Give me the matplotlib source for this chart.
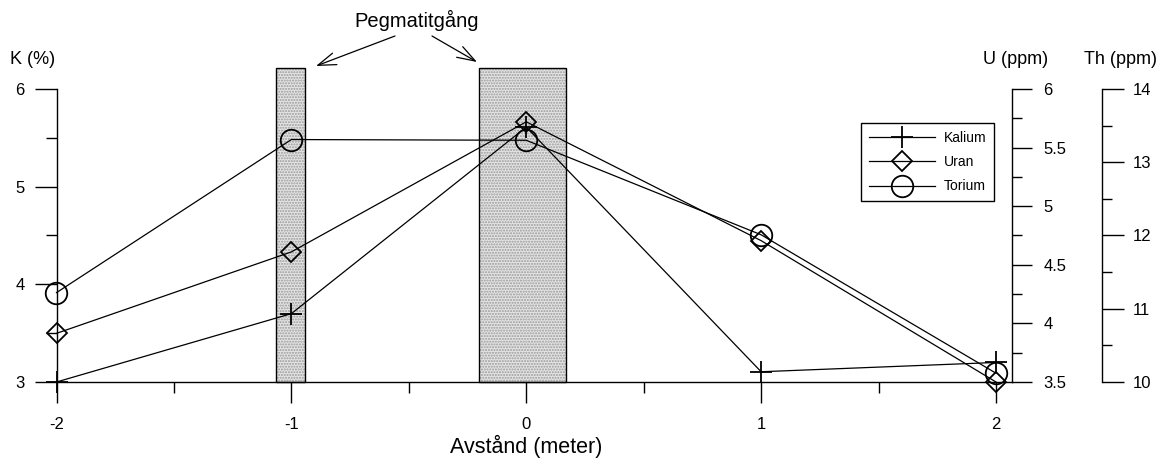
import matplotlib
matplotlib.use("Agg")
import matplotlib.pyplot as plt
from matplotlib.patches import Rectangle, FancyArrowPatch
from matplotlib.ticker import MultipleLocator, FixedLocator

plt.rcParams['font.family'] = ['Liberation Sans', 'DejaVu Sans']

# ---- data ----
distance = [-2, -1, 0, 1, 2]
kalium = [3.0, 3.70, 5.61, 3.105, 3.2]          # K (%)
uran = [3.915, 4.61, 5.72, 4.706, 3.50]         # U (ppm)
torium = [11.22, 13.31, 13.30, 12.01, 10.12]    # Th (ppm)
series_names = ['Kalium', 'Uran', 'Torium']
dykes = [(-1.067, -0.941), (-0.200, 0.168)]      # pegmatite dyke extents (m)
dyke_top = 6.215
x_ticks = [-2, -1, 0, 1, 2]
k_ticks = [3, 4, 5, 6]
u_ticks = [3.5, 4, 4.5, 5, 5.5, 6]
th_ticks = [10, 11, 12, 13, 14]

W, H = 1168, 461
fig = plt.figure(figsize=(W / 100, H / 100), dpi=100)

x_left, x_right, y_top, y_bot = 56.5, 1012, 89, 382
ax = fig.add_axes([x_left / W, 1 - y_bot / H, (x_right - x_left) / W, (y_bot - y_top) / H])
unit = (996 - 56.5) / 4
ax.set_xlim(-2, 2 + (x_right - 996) / unit)
ax.set_ylim(3, 6)

for s in ['top', 'right']:
    ax.spines[s].set_visible(False)
for s in ['left', 'bottom']:
    ax.spines[s].set_linewidth(1.0)
    ax.spines[s].set_color('black')

ax.xaxis.set_major_locator(FixedLocator(x_ticks))
ax.xaxis.set_minor_locator(FixedLocator([-1.5, -0.5, 0.5, 1.5]))
ax.yaxis.set_major_locator(FixedLocator(k_ticks))
ax.yaxis.set_minor_locator(FixedLocator([3.5, 4.5, 5.5]))
ax.tick_params(axis='x', which='major', direction='out', length=15, width=1, pad=10, labelsize=12)
ax.tick_params(axis='x', which='minor', direction='out', length=8, width=1)
ax.tick_params(axis='y', which='major', direction='out', length=16, width=1, pad=7, labelsize=12)
ax.tick_params(axis='y', which='minor', direction='out', length=8, width=1)
ax.set_xticklabels([str(v) for v in x_ticks])
ax.set_yticklabels([str(v) for v in k_ticks])

# pegmatite dykes
for (x0, x1) in dykes:
    ax.add_patch(Rectangle((x0, 3), x1 - x0, dyke_top - 3, facecolor='#e4e4e4',
                           edgecolor='#9a9a9a', hatch='......', linewidth=0,
                           clip_on=False, zorder=1))
    ax.add_patch(Rectangle((x0, 3), x1 - x0, dyke_top - 3, facecolor='none',
                           edgecolor='black', linewidth=1.0, clip_on=False, zorder=1.5))

# U axis
ax2 = ax.twinx()
ax2.set_ylim(3.5, 6)
for s in ['top', 'left', 'bottom']:
    ax2.spines[s].set_visible(False)
ax2.spines['right'].set_linewidth(1.0)
ax2.yaxis.set_major_locator(FixedLocator(u_ticks))
ax2.yaxis.set_minor_locator(MultipleLocator(0.25))
ax2.tick_params(axis='y', which='major', direction='out', length=14.5, width=1, pad=8, labelsize=12)
ax2.tick_params(axis='y', which='minor', direction='out', length=7.2, width=1)
ax2.set_yticklabels([('%g' % v) for v in u_ticks])

# Th axis
ax3 = ax.twinx()
ax3.set_ylim(10, 14)
for s in ['top', 'left', 'bottom']:
    ax3.spines[s].set_visible(False)
ax3.spines['right'].set_position(('axes', (1102 - x_left) / (x_right - x_left)))
ax3.spines['right'].set_linewidth(1.0)
ax3.yaxis.set_major_locator(FixedLocator(th_ticks))
ax3.yaxis.set_minor_locator(MultipleLocator(0.5))
ax3.tick_params(axis='y', which='major', direction='out', length=16, width=1, pad=6.5, labelsize=12)
ax3.tick_params(axis='y', which='minor', direction='out', length=7.2, width=1)
ax3.set_yticklabels([str(v) for v in th_ticks])

lk, = ax.plot(distance, kalium, color='black', lw=0.9, marker='+', ms=16, mew=1.3,
              clip_on=False, zorder=3, label=series_names[0])
lu, = ax2.plot(distance, uran, color='black', lw=0.9, marker='D', ms=10, mew=1.3,
               mfc='none', clip_on=False, zorder=3, label=series_names[1])
lt, = ax3.plot(distance, torium, color='black', lw=0.9, marker='o', ms=15.5, mew=1.3,
               mfc='none', clip_on=False, zorder=3, label=series_names[2])

leg = fig.legend(handles=[lk, lu, lt], loc='upper left',
                 bbox_to_anchor=(861 / W, 1 - 123 / H), borderaxespad=0,
                 fontsize=10, handlelength=4.75, handletextpad=0.65,
                 borderpad=0.55, labelspacing=0.75, fancybox=False,
                 framealpha=1, edgecolor='black')
leg.get_frame().set_linewidth(1.0)

# titles
fig.text(33 / W, 1 - 60 / H, 'K (%)', ha='center', va='center', fontsize=13)
fig.text(1016 / W, 1 - 60 / H, 'U (ppm)', ha='center', va='center', fontsize=13)
fig.text(1120 / W, 1 - 60 / H, 'Th (ppm)', ha='center', va='center', fontsize=13)
fig.text(526 / W, 1 - 446 / H, 'Avstånd (meter)', ha='center', va='center', fontsize=15.5)

fig.text(417 / W, 1 - 20 / H, 'Pegmatitgång', ha='center', va='center', fontsize=14.5)
arrow_kw = dict(arrowstyle='->, head_length=0.65, head_width=0.22', color='black', lw=0.9,
                shrinkA=0, shrinkB=0, mutation_scale=20, transform=fig.transFigure)
fig.add_artist(FancyArrowPatch((395 / W, 1 - 36 / H), (316 / W, 1 - 66 / H), **arrow_kw))
fig.add_artist(FancyArrowPatch((432 / W, 1 - 36 / H), (477 / W, 1 - 62 / H), **arrow_kw))

fig.savefig('out.png', dpi=100)
